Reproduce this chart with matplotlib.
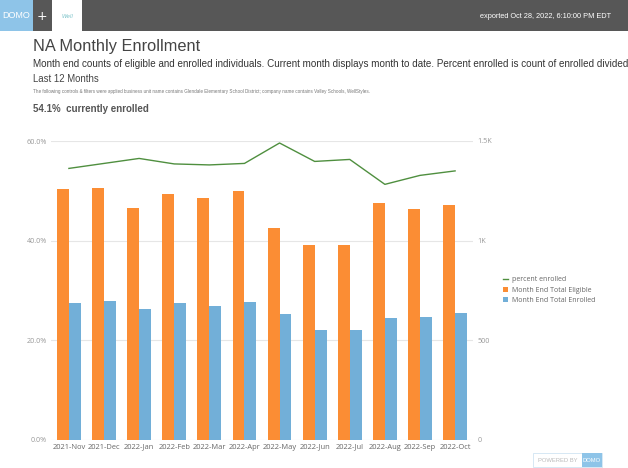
import matplotlib
matplotlib.use('Agg')
import matplotlib.pyplot as plt
from matplotlib.patches import Rectangle
import numpy as np

# Data
months = ['2021-Nov', '2021-Dec', '2022-Jan', '2022-Feb', '2022-Mar', '2022-Apr',
          '2022-May', '2022-Jun', '2022-Jul', '2022-Aug', '2022-Sep', '2022-Oct']
eligible = [1260, 1262, 1162, 1235, 1212, 1247, 1062, 980, 977, 1188, 1157, 1178]
enrolled = [687, 697, 656, 685, 670, 691, 632, 550, 550, 610, 615, 636]
pct_enrolled = [54.5, 55.5, 56.5, 55.4, 55.2, 55.5, 59.6, 55.9, 56.3, 51.3, 53.1, 54.0]

pct_ticks = [0, 20, 40, 60]
pct_labels = ['0.0%', '20.0%', '40.0%', '60.0%']
cnt_ticks = [0, 500, 1000, 1500]
cnt_labels = ['0', '500', '1K', '1.5K']

ORANGE = '#FB8D34'
BLUE = '#72AFD8'
GREEN = '#4F8F3F'
W, H = 628, 468

fig = plt.figure(figsize=(6.28, 4.68), dpi=100)
fig.patch.set_facecolor('white')

def fx(px):
    return px / W

def fy(py):
    return 1 - py / H

# Header bar
fig.patches.append(Rectangle((0, fy(31)), 1, 31 / H, transform=fig.transFigure,
                             facecolor='#575757', edgecolor='none', zorder=0))
fig.patches.append(Rectangle((0, fy(31)), fx(33), 31 / H, transform=fig.transFigure,
                             facecolor='#8EC4E8', edgecolor='none', zorder=1))
fig.patches.append(Rectangle((fx(52), fy(31)), fx(30), 31 / H, transform=fig.transFigure,
                             facecolor='white', edgecolor='none', zorder=1))
fig.text(fx(16), fy(16), 'DOMO', color='white', fontsize=6.5, ha='center', va='center',
         family='Liberation Sans')
fig.text(fx(42), fy(16), '+', color='white', fontsize=9, ha='center', va='center')
fig.text(fx(67), fy(16), 'Well', color='#7CC3C9', fontsize=4, ha='center', va='center',
         style='italic')
fig.text(fx(611), fy(16), 'exported Oct 28, 2022, 6:10:00 PM EDT', color='white',
         fontsize=5.3, ha='right', va='center', family='Liberation Sans')

# Titles
fig.text(fx(33), fy(46), 'NA Monthly Enrollment', fontsize=11.8, color='#444444',
         va='center', family='Liberation Sans')
fig.text(fx(33), fy(64), 'Month end counts of eligible and enrolled individuals. Current month '
         'displays month to date. Percent enrolled is count of enrolled divided',
         fontsize=7.15, color='#333333', va='center', family='Liberation Sans')
fig.text(fx(33), fy(79), 'Last 12 Months', fontsize=6.9, color='#444444', va='center',
         family='Liberation Sans')
fig.text(fx(33), fy(92), 'The following controls & filters were applied business unit name contains '
         'Glendale Elementary School District; company name contains Valley Schools, WellStyles.',
         fontsize=3.3, color='#777777', va='center', family='Liberation Sans')
fig.text(fx(33), fy(109), '54.1%  currently enrolled', fontsize=7.0, color='#555555',
         va='center', fontweight='bold', family='Liberation Sans')

# Chart
ax = fig.add_axes([fx(51), fy(440), fx(473 - 51), (440 - 141) / H])
ax2 = ax.twinx()

x = np.arange(len(months))
bw = 0.34
ax2.bar(x - bw / 2, eligible, width=bw, color=ORANGE, label='Month End Total Eligible')
ax2.bar(x + bw / 2, enrolled, width=bw, color=BLUE, label='Month End Total Enrolled')
ax2.set_ylim(0, 1500)
ax2.set_yticks(cnt_ticks)
ax2.set_yticklabels(cnt_labels)
ax2.grid(axis='y', color='#E6E6E6', linewidth=0.8)
ax2.set_axisbelow(True)

ax.plot(x, pct_enrolled, color=GREEN, linewidth=1.0, label='percent enrolled')
ax.set_ylim(0, 60)
ax.set_yticks(pct_ticks)
ax.set_yticklabels(pct_labels)
ax.set_xlim(-0.51, 11.51)
ax.set_xticks(x)
ax.set_xticklabels(months, va='baseline')
ax.set_zorder(ax2.get_zorder() + 1)
ax.patch.set_visible(False)

for a in (ax, ax2):
    for s in a.spines.values():
        s.set_visible(False)
    a.tick_params(length=0, labelsize=5.2, labelcolor='#999999', pad=3)
    for lbl in a.get_yticklabels():
        lbl.set_family('Open Sans')
ax.tick_params(axis='x', labelcolor='#666666', labelsize=5.4, pad=6.2)
for lbl in ax.get_xticklabels():
    lbl.set_family('Open Sans')

# Legend
h1, l1 = ax.get_legend_handles_labels()
h2, l2 = ax2.get_legend_handles_labels()
leg = fig.legend(h1 + h2, l1 + l2, loc='center left', bbox_to_anchor=(fx(497), fy(290)),
                 frameon=False, handlelength=0.7, handleheight=0.7,
                 handletextpad=0.5, labelspacing=0.5, prop={'family': 'Open Sans', 'size': 5})
for t in leg.get_texts():
    t.set_color('#666666')

# Powered by footer
fig.patches.append(Rectangle((fx(533), fy(467)), fx(69), 14 / H, transform=fig.transFigure,
                             facecolor='white', edgecolor='#D0E4F2', linewidth=0.6))
fig.patches.append(Rectangle((fx(582), fy(467)), fx(20), 14 / H, transform=fig.transFigure,
                             facecolor='#8EC4E8', edgecolor='none'))
fig.text(fx(558), fy(460), 'POWERED BY', fontsize=4.2, color='#BBBBBB', ha='center',
         va='center', family='Liberation Sans')
fig.text(fx(592), fy(460), 'DOMO', fontsize=4.2, color='white', ha='center', va='center',
         family='Liberation Sans')

fig.savefig('out.png', dpi=100)
